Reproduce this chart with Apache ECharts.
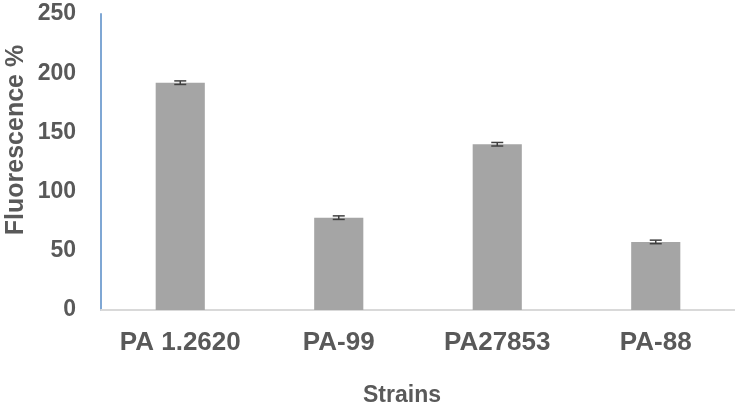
<!DOCTYPE html>
<html>
<head>
<meta charset="utf-8">
<script src="https://cdn.jsdelivr.net/npm/echarts@6/dist/echarts.min.js"></script>
<style>
html,body{margin:0;padding:0;background:#fff;}
#chart{width:735px;height:407px;}
</style>
</head>
<body>
<div id="chart"></div>
<script>
var categories = ['PA 1.2620', 'PA-99', 'PA27853', 'PA-88'];
var values = [192, 78, 140, 57.5];
var errors = [1.5, 1.5, 1.5, 1.5];
var yTicks = [0, 50, 100, 150, 200, 250];

var chart = echarts.init(document.getElementById('chart'));
var font = '"Liberation Sans", Arial, sans-serif';
var textColor = '#595959';

var errData = categories.map(function (c, i) {
  return [i, values[i] - errors[i], values[i] + errors[i]];
});

chart.setOption({
  animation: false,
  grid: { left: 101, right: 0, top: 14, bottom: 97, containLabel: false, outerBoundsMode: 'none' },
  xAxis: {
    type: 'category',
    data: categories,
    axisLine: { lineStyle: { color: '#d9d9d9', width: 2 } },
    axisTick: { show: false },
    axisLabel: { color: textColor, fontFamily: font, fontWeight: 'bold', fontSize: 26, margin: 20 },
    name: 'Strains',
    nameLocation: 'middle',
    nameGap: 74,
    nameTextStyle: { color: textColor, fontFamily: font, fontWeight: 'bold', fontSize: 23, padding: [0, 32, 0, 0] }
  },
  yAxis: {
    type: 'value',
    min: yTicks[0],
    max: yTicks[yTicks.length - 1],
    interval: 50,
    splitLine: { show: false },
    axisLine: { show: true, lineStyle: { color: '#7fa7d4', width: 2 } },
    axisTick: { show: false },
    axisLabel: { color: textColor, fontFamily: font, fontWeight: 'bold', fontSize: 23, margin: 25 }
  },
  graphic: [{
    type: 'text',
    x: 16,
    y: 140,
    rotation: Math.PI / 2,
    style: {
      text: 'Fluorescence %',
      align: 'center',
      verticalAlign: 'middle',
      fill: textColor,
      font: 'bold 25px "Liberation Sans", Arial, sans-serif'
    }
  }],
  series: [{
    type: 'bar',
    data: values,
    barWidth: '31%',
    itemStyle: { color: '#a5a5a5' }
  }, {
    type: 'custom',
    data: errData,
    renderItem: function (params, api) {
      var x = api.value(0);
      var lo = api.coord([x, api.value(1)]);
      var hi = api.coord([x, api.value(2)]);
      var hw = 6;
      var st = { stroke: '#404040', lineWidth: 1.5 };
      return {
        type: 'group',
        children: [
          { type: 'line', shape: { x1: lo[0], y1: lo[1], x2: hi[0], y2: hi[1] }, style: st },
          { type: 'line', shape: { x1: lo[0] - hw, y1: lo[1], x2: lo[0] + hw, y2: lo[1] }, style: st },
          { type: 'line', shape: { x1: hi[0] - hw, y1: hi[1], x2: hi[0] + hw, y2: hi[1] }, style: st }
        ]
      };
    },
    z: 10
  }]
});
</script>
</body>
</html>
